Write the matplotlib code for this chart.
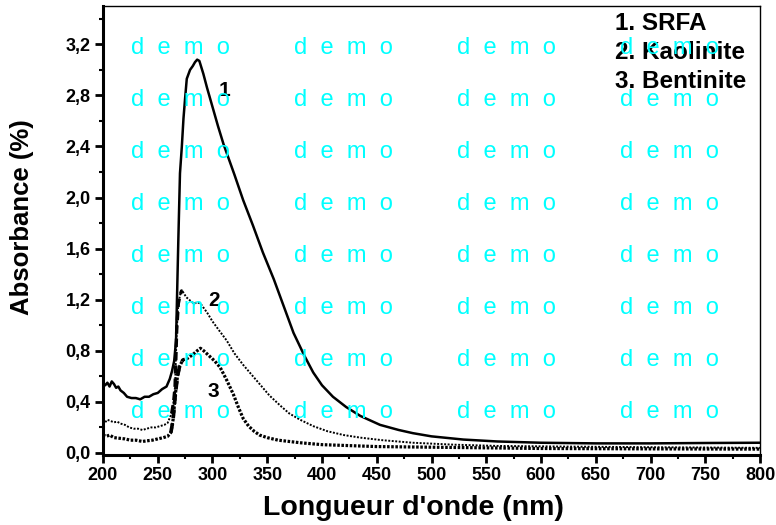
import matplotlib
matplotlib.use("Agg")
import matplotlib.pyplot as plt
from matplotlib.ticker import MultipleLocator, FuncFormatter
import numpy as np

srfa_x = [200, 202, 204, 206, 208, 210, 212, 214, 216, 219, 222, 226, 230, 234, 238, 242,
          246, 250, 254, 258, 261, 263, 265, 266.7, 268.8, 270.3, 272, 273.5, 275, 276.5,
          279.5, 282, 284, 286, 288, 291.6, 295, 300, 305, 310, 320, 328, 337, 346,
          356, 365, 374, 384, 392, 400, 410, 422, 435, 453, 470, 483,
          500, 529, 560, 600, 650, 700, 750, 800]
srfa_y = [0.55, 0.53, 0.55, 0.52, 0.56, 0.54, 0.51, 0.52, 0.49, 0.47, 0.44, 0.43, 0.43, 0.42, 0.44, 0.44,
          0.46, 0.47, 0.50, 0.52, 0.58, 0.64, 0.72, 0.88, 1.67, 2.19, 2.40, 2.62, 2.78, 2.93,
          3.00, 3.03, 3.06, 3.08, 3.07, 2.97, 2.86, 2.71, 2.56, 2.42, 2.18, 1.98, 1.78, 1.57,
          1.36, 1.15, 0.94, 0.76, 0.63, 0.53, 0.44, 0.36, 0.29, 0.22, 0.18, 0.155,
          0.13, 0.105, 0.09, 0.08, 0.075, 0.075, 0.078, 0.08]

kaol_x = [200, 202, 204, 207, 210, 213, 216, 220, 224, 228, 232, 236, 240, 244, 248, 252,
          256, 259, 262.7, 264.5, 265.8, 267.3, 268.8, 270.5, 272, 276, 280, 283, 286, 289,
          295, 300, 306, 313, 320, 328, 337, 345, 352, 362, 370, 380, 392, 405, 420, 435,
          455, 483, 520, 560, 620, 700, 800]
kaol_y = [0.26, 0.24, 0.26, 0.25, 0.24, 0.245, 0.23, 0.22, 0.20, 0.19, 0.19, 0.18, 0.19, 0.20, 0.20, 0.21,
          0.22, 0.235, 0.31, 0.40, 0.52, 0.96, 1.17, 1.24, 1.275, 1.22, 1.19, 1.17, 1.18, 1.17,
          1.10, 1.03, 0.96, 0.88, 0.78, 0.69, 0.60, 0.52, 0.45, 0.37, 0.31, 0.26, 0.21, 0.17, 0.14, 0.12,
          0.10, 0.08, 0.065, 0.055, 0.05, 0.045, 0.04]

bent_x = [200, 203, 206, 210, 215, 220, 225, 230, 236, 240, 245, 250, 255, 259, 262, 264,
          266, 268, 270, 273, 277, 282, 286, 289, 292, 297, 302, 307, 313, 319, 324, 328,
          333, 338, 343, 350, 360, 380, 400, 450, 500, 600, 700, 800]
bent_y = [0.14, 0.13, 0.14, 0.12, 0.115, 0.11, 0.10, 0.10, 0.09, 0.095, 0.10, 0.11, 0.12, 0.13, 0.16, 0.26,
          0.45, 0.60, 0.68, 0.73, 0.74, 0.77, 0.80, 0.82, 0.80, 0.76, 0.72, 0.67, 0.57, 0.46, 0.35, 0.27,
          0.21, 0.17, 0.14, 0.12, 0.10, 0.08, 0.065, 0.05, 0.045, 0.035, 0.032, 0.03]

labels = ["1. SRFA", "2. Kaolinite", "3. Bentinite"]

plt.rcParams["font.family"] = ["Liberation Sans", "DejaVu Sans"]
plt.rcParams["font.weight"] = "bold"

fig = plt.figure(figsize=(7.76, 5.25), dpi=100)
ax = fig.add_axes([103 / 776, 70 / 525, 657 / 776, 449 / 525])

ax.plot(srfa_x, srfa_y, color="black", lw=1.8, zorder=3)
ax.plot(kaol_x, kaol_y, color="black", lw=1.4, ls=(0, (1, 0.8)), zorder=3)
ax.plot(bent_x, bent_y, color="black", lw=2.3, ls=(0, (0.8, 0.5)), zorder=3)

# rising edges drawn dashed in the original
kx, ky = np.array(kaol_x), np.array(kaol_y)
m = (kx >= 262.7) & (kx <= 272)
ax.plot(kx[m], ky[m], color="black", lw=2.4, ls=(0, (2.5, 1.5)), zorder=3)
bx, by = np.array(bent_x), np.array(bent_y)
m = (bx >= 262) & (bx <= 273)
ax.plot(bx[m], by[m], color="black", lw=2.6, ls=(0, (2.5, 1.5)), zorder=3)

ax.text(311, 2.84, "1", fontsize=15, fontweight="bold", ha="center", va="center")
ax.text(301, 1.19, "2", fontsize=15, fontweight="bold", ha="center", va="center")
ax.text(301, 0.48, "3", fontsize=15, fontweight="bold", ha="center", va="center")

ax.set_xlim(200, 800)
ax.set_ylim(-0.016, 3.5)
ax.xaxis.set_major_locator(MultipleLocator(50))
ax.xaxis.set_minor_locator(MultipleLocator(25))
ax.yaxis.set_minor_locator(MultipleLocator(0.2))
ax.set_yticks(np.arange(0, 3.3, 0.4))
ax.yaxis.set_major_formatter(FuncFormatter(lambda v, p: f"{v:.1f}".replace(".", ",")))

ax.tick_params(which="major", direction="out", length=6, width=2, labelsize=13, pad=3)
ax.tick_params(which="minor", direction="out", length=3, width=1.5)
for lab in ax.get_xticklabels() + ax.get_yticklabels():
    lab.set_fontweight("bold")

ax.spines["left"].set_linewidth(2.2)
ax.spines["bottom"].set_linewidth(2.2)
ax.spines["top"].set_linewidth(1.0)
ax.spines["right"].set_linewidth(1.0)

ax.set_xlabel("Longueur d'onde (nm)", fontsize=20.5, fontweight="bold")
ax.set_ylabel("Absorbance (%)", fontsize=18.5, fontweight="bold")
ax.xaxis.set_label_coords((413 - 103) / 657, -(508 - 455) / 449)
ax.yaxis.set_label_coords((22 - 103) / 657, (455 - 217) / 449)
ax.xaxis.label.set_va("center")
ax.yaxis.label.set_va("center")

for i, lab in enumerate(labels):
    fig.text(615 / 776, 1 - (30 + 29 * i) / 525, lab, fontsize=17.5, fontweight="bold",
             ha="left", va="baseline")

# watermark
for cx in [180, 343, 506, 669]:
    for row in range(8):
        fig.text(cx / 776, 1 - (54 + 52 * row) / 525, "d  e  m  o", color="cyan",
                 fontsize=17, fontweight="normal", ha="center", va="baseline", zorder=10)

fig.savefig("out.png", dpi=100)
